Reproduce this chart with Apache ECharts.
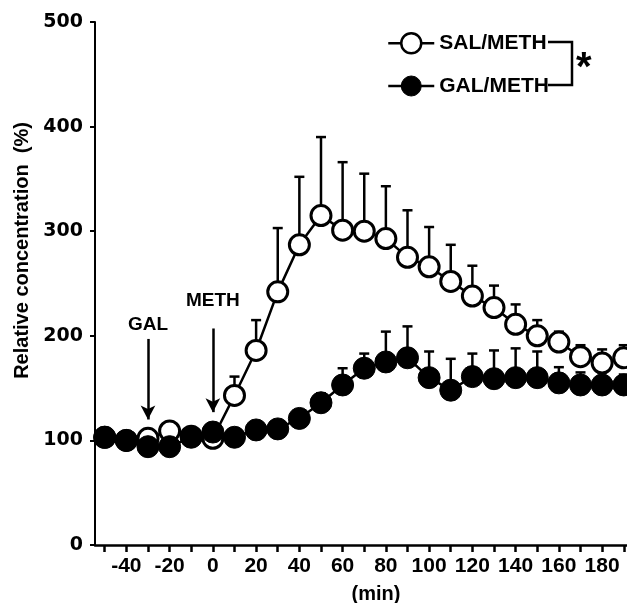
<!DOCTYPE html>
<html>
<head>
<meta charset="utf-8">
<script src="https://cdn.jsdelivr.net/npm/echarts@6/dist/echarts.min.js"></script>
<style>html,body{margin:0;padding:0;background:#fff;}#c{width:627px;height:603px;}</style>
</head>
<body>
<div id="c"></div>
<script>
// ---- data ----
const times = [-50,-40,-30,-20,-10,0,10,20,30,40,50,60,70,80,90,100,110,120,130,140,150,160,170,180,190];
const salMean = [103,100,102,109,104,102,143,186,242,287,315,301,300,293,275,266,252,238,227,211,200,194,180,174,179];
const salSem  = [4,4,4,5,4,4,18,29,61,65,75,65,55,50,45,38,35,29,21,19,15,10,11,13,12];
const galMean = [103,100,94,94,103,108,103,110,111,121,136,153,169,175,179,160,148,161,159,160,160,155,153,153,153];
const galSem  = [4,4,4,4,4,4,4,4,4,5,9,16,14,29,30,25,30,22,27,28,25,15,12,12,10];
const yTicks = [0,100,200,300,400,500];
const xTickValues = [-50,-40,-30,-20,-10,0,10,20,30,40,50,60,70,80,90,100,110,120,130,140,150,160,170,180,190];
const xLabelValues = [-40,-20,0,20,40,60,80,100,120,140,160,180];
const seriesNames = ['SAL/METH','GAL/METH'];

const salPts = times.map((t,i)=>[t, salMean[i]]);
const galPts = times.map((t,i)=>[t, galMean[i]]);
const salErr = times.map((t,i)=>[t, salMean[i], salSem[i]]);
const galErr = times.map((t,i)=>[t, galMean[i], galSem[i]]);

function errRender(params, api){
  const t = api.value(0), m = api.value(1), s = api.value(2);
  const p0 = api.coord([t, m]);
  const p1 = api.coord([t, m + s]);
  const st = {stroke:'#000', lineWidth:2.5};
  return {type:'group', children:[
    {type:'line', shape:{x1:p0[0], y1:p0[1], x2:p1[0], y2:p1[1]}, style:st},
    {type:'line', shape:{x1:p1[0]-5, y1:p1[1], x2:p1[0]+5, y2:p1[1]}, style:st}
  ]};
}

const FONT = "'Liberation Sans', Arial, sans-serif";
const chart = echarts.init(document.getElementById('c'), null, {renderer:'canvas'});
chart.setOption({
  animation:false,
  backgroundColor:'#fff',
  grid:{left:95, right:0, top:22, bottom:58, containLabel:false, outerBoundsMode:'none'},
  legend:{
    data:[
      {name:seriesNames[0], itemStyle:{color:'#fff', borderColor:'#000', borderWidth:2.5}},
      {name:seriesNames[1], itemStyle:{color:'#000', borderColor:'#000', borderWidth:1}}
    ],
    orient:'vertical', left:387, top:32, padding:0,
    itemWidth:46, itemHeight:25, itemGap:21,
    lineStyle:{color:'#000', width:2.5},
    textStyle:{fontFamily:FONT, fontWeight:'bold', fontSize:21, color:'#000'}
  },
  xAxis:{
    type:'value', min:-54.5, max:191.5,
    name:'(min)', nameLocation:'middle', nameGap:39,
    nameTextStyle:{fontFamily:FONT, fontWeight:'bold', fontSize:20, color:'#000', padding:[0,0,0,30]},
    axisLine:{show:true, onZero:false, lineStyle:{color:'#000', width:2.5}},
    axisTick:{show:true, inside:false, length:7, lineStyle:{color:'#000', width:2.5}, customValues:xTickValues},
    axisLabel:{customValues:xLabelValues, margin:11, fontFamily:FONT, fontWeight:'bold', fontSize:21, color:'#000'},
    splitLine:{show:false}
  },
  yAxis:{
    type:'value', min:0, max:500, interval:100,
    name:'Relative concentration  (%)', nameLocation:'middle', nameGap:62, nameRotate:90,
    nameTextStyle:{fontFamily:FONT, fontWeight:'bold', fontSize:20, color:'#000', padding:[0,0,0,66]},
    axisLine:{show:true, onZero:false, lineStyle:{color:'#000', width:2}},
    axisTick:{show:true, inside:false, length:5, lineStyle:{color:'#000', width:2}, customValues:yTicks},
    axisLabel:{customValues:yTicks, margin:12, fontFamily:"'DejaVu Sans', sans-serif", fontWeight:'bold', fontSize:19, color:'#000'},
    splitLine:{show:false}
  },
  series:[
    {name:'salErr', type:'custom', renderItem:errRender, data:salErr, z:1, silent:true,
     encode:{x:0, y:[1,2]}},
    {name:'galErr', type:'custom', renderItem:errRender, data:galErr, z:1, silent:true,
     encode:{x:0, y:[1,2]}},
    {name:seriesNames[0], type:'line', data:salPts, z:3,
     symbol:'circle', symbolSize:20, showAllSymbol:true,
     lineStyle:{color:'#000', width:2.5},
     itemStyle:{color:'#fff', borderColor:'#000', borderWidth:3}},
    {name:seriesNames[1], type:'line', data:galPts, z:4,
     symbol:'circle', symbolSize:22, showAllSymbol:true,
     lineStyle:{color:'#000', width:2.5},
     itemStyle:{color:'#000', borderColor:'#000', borderWidth:1},
     markLine:{
       silent:true, animation:false,
       symbol:['none','arrow'], symbolSize:[11,14],
       lineStyle:{color:'#000', width:2.5, type:'solid'},
       label:{show:true, position:'start', fontFamily:FONT, fontWeight:'bold', fontSize:19, color:'#000'},
       data:[
         [{coord:[-30,197], label:{formatter:'GAL', distance:5}}, {coord:[-30,120]}],
         [{coord:[0,207], label:{formatter:'METH', distance:18}}, {coord:[0,127]}]
       ]
     }}
  ],
  graphic:[
    {type:'polyline', shape:{points:[[548,42],[572,42],[572,85],[548,85]]}, style:{stroke:'#000', lineWidth:2.5, fill:null}},
    {type:'text', left:576, top:49, style:{text:'*', font:"bold 40px 'Liberation Sans', sans-serif", fill:'#000'}}
  ]
});
</script>
</body>
</html>
